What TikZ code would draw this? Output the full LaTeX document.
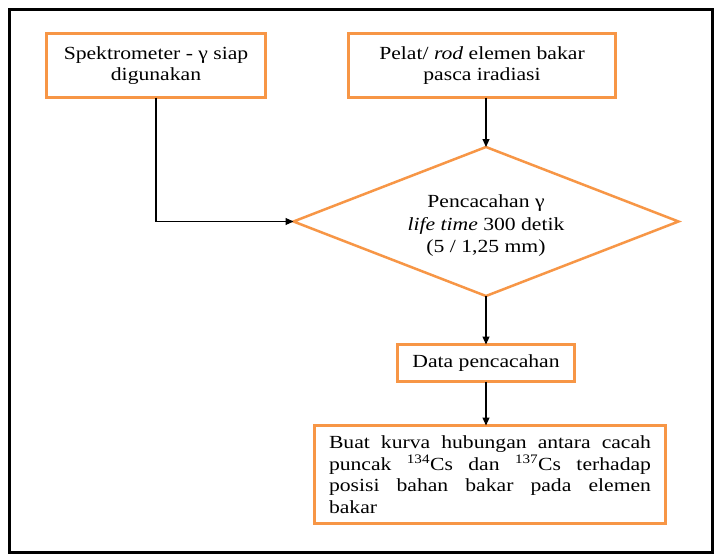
\documentclass[tikz,border=0pt]{standalone}
\usepackage{fontspec}
\setmainfont{Liberation Serif}[FakeStretch=1.17]
\usetikzlibrary{shapes.geometric,arrows.meta}
\definecolor{flowor}{HTML}{F79646}

\begin{document}
\begin{tikzpicture}[x=1pt,y=-1pt,
  box/.style={draw=flowor, line width=3pt, fill=white, inner sep=0pt, outer sep=0pt,
    align=center, font=\fontsize{18.5}{20.5}\selectfont},
  decision/.style={diamond, draw=flowor, line width=2.5pt, inner sep=0pt, outer sep=0pt,
    aspect=2.58, minimum width=385pt, minimum height=149pt,
    align=center, font=\fontsize{18.5}{22.5}\selectfont},
  flow/.style={draw=black, line width=1.1pt, -{Triangle[length=8pt,width=7pt]}}]

% page and outer frame
\useasboundingbox (0,0) rectangle (715,554);
\fill[white] (0,0) rectangle (715,554);
\draw[line width=2.6pt] (9.5,9.5) rectangle (712.5,552.3);

% process steps
\node[box, minimum width=219pt, minimum height=64pt] (spek) at (156,65.5)
  {Spektrometer - γ siap\\digunakan};
\node[box, minimum width=267pt, minimum height=64pt] (pelat) at (482,65.5)
  {Pelat/ \textit{rod} elemen bakar\\pasca iradiasi};
\node[decision] (cacah) at (486,221.5) {};
\node[align=center, font=\fontsize{18.5}{22.5}\selectfont, inner sep=0pt] (cacahtxt) at (486,226)
  {Pencacahan γ\\\textit{life time} 300 detik\\(5 / 1,25 mm)};
\node[box, minimum width=177pt, minimum height=37pt] (data) at (486,363)
  {Data pencacahan};
\node[box, minimum width=351pt, minimum height=98pt, text width=322pt, align=justify,
  font=\fontsize{18.5}{21.5}\selectfont] (kurva) at (490,474.5)
  {Buat kurva hubungan antara cacah\linebreak
   puncak \textsuperscript{134}Cs dan \textsuperscript{137}Cs terhadap\linebreak
   posisi bahan bakar pada elemen\linebreak
   bakar};

% connectors
\draw[flow] (spek.south) |- (cacah.west);
\draw[flow] (pelat.south -| cacah.north) -- (cacah.north);
\draw[flow] (cacah.south) -- (data.north);
\draw[flow] (data.south) -- (data.south |- kurva.north);
\end{tikzpicture}
\end{document}
